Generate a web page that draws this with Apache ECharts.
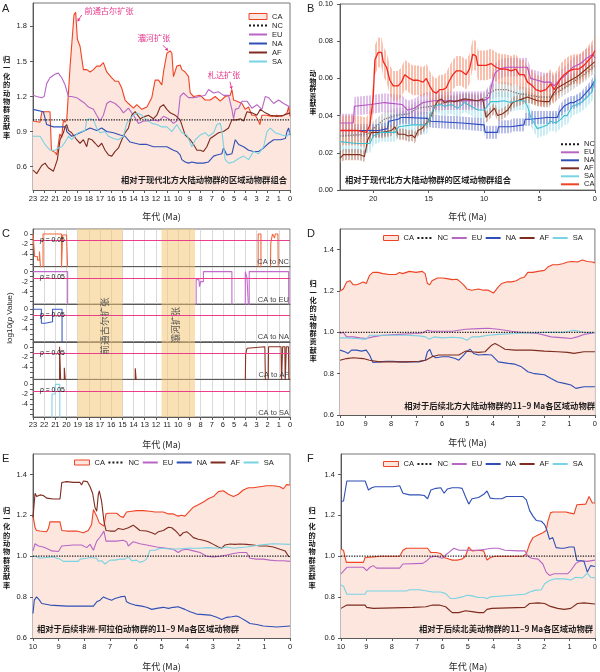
<!DOCTYPE html>
<html>
<head>
<meta charset="utf-8">
<script src="https://cdn.jsdelivr.net/npm/echarts@6.0.0/dist/echarts.min.js"></script>
<style>html,body{margin:0;padding:0;background:#fff;}#chart{width:600px;height:672px;}</style>
</head>
<body>
<div id="chart"></div>
<script>
// ---------------- tick labels / categories ----------------
const A_YTICKS = [0.6, 0.9, 1.2, 1.5, 1.8];
const B_YTICKS = [0, 0.02, 0.04, 0.06, 0.08, 0.10];
const B_XTICKS = [0, 5, 10, 15, 20];
const C_YTICKS = [0, -2, -4];
const C_YMINOR = [0, -1, -2, -3, -4, -5, -6];
const DEF_YTICKS = [0.6, 0.8, 1.0, 1.2, 1.4];
const LEGEND_A = ['CA', 'NC', 'EU', 'NA', 'AF', 'SA'];
const LEGEND_B = ['NC', 'EU', 'NA', 'AF', 'SA', 'CA'];
const C_PAIRS = ['CA to NC', 'CA to EU', 'CA to NA', 'CA to AF', 'CA to SA'];
const C_BANDS = [[19, 15], [11.5, 8.5]];
const C_BAND_LABELS = ['前通古尔扩张', '灞河扩张'];
const A_NOTE_TEXT = ['前通古尔扩张', '灞河扩张', '札达扩张'];
const A_NOTE_TIP = [[19.03, 1.84], [10.89, 1.59], [5.21, 1.26]];
const P_THRESHOLD = 0.05;
const NC_LEVEL = 1.0;
const C_OFF = -7; // p below plotted range

// ---------------- Panel A (age Ma, normalized contribution) ----------------
const A_CA = [[23,0.99],[22.37,0.98],[22.2,1.07],[21.48,1.07],[21.35,0.74],[21.0,0.72],[20.88,0.70],[20.75,0.78],[20.6,0.88],[20.43,0.85],[20.28,1.0],[20.13,0.98],[19.98,1.0],[19.68,1.46],[19.33,1.9],[19.18,1.92],[19.03,1.69],[18.79,1.63],[18.49,1.43],[18.19,1.43],[17.89,1.41],[17.59,1.43],[17.3,1.46],[17.0,1.46],[16.7,1.49],[16.4,1.41],[15.95,1.36],[15.65,1.33],[15.35,1.33],[15.05,1.27],[14.76,1.17],[14.46,1.14],[14.01,1.10],[13.71,1.13],[13.26,1.09],[12.81,1.11],[12.37,1.19],[12.07,1.34],[11.77,1.34],[11.47,1.30],[11.32,1.41],[11.02,1.57],[10.72,1.59],[10.57,1.57],[10.43,1.37],[10.13,1.46],[9.83,1.47],[9.68,1.43],[9.38,1.41],[9.08,1.37],[8.93,1.23],[8.63,1.20],[8.04,1.21],[7.59,1.17],[7.14,1.17],[6.69,1.20],[6.24,1.16],[5.8,1.20],[5.35,1.21],[5.2,1.26],[5.05,1.17],[4.75,1.16],[4.3,1.14],[4.0,1.09],[3.71,1.11],[3.41,1.04],[3.11,1.04],[2.81,0.99],[2.7,0.96],[2.51,1.04],[2.06,1.04],[1.61,1.03],[1.17,1.04],[0.72,1.03],[0.27,1.06],[0.12,1.11],[0,1.03]];
const A_EU = [[23,1.21],[22.67,1.2],[22.22,1.19],[22.0,1.2],[21.78,1.31],[21.48,1.36],[21.03,1.39],[20.73,1.40],[20.43,1.36],[20.13,1.3],[19.98,1.29],[19.83,1.2],[19.54,1.2],[19.09,1.19],[18.79,1.17],[18.34,1.14],[18.04,1.11],[17.59,1.09],[17.3,1.04],[17.0,0.99],[16.7,1.04],[16.4,1.14],[16.1,1.16],[15.65,1.14],[15.2,1.1],[14.91,1.06],[14.46,1.1],[14.01,1.04],[13.56,0.97],[13.11,0.99],[12.67,0.99],[12.22,1.0],[11.77,0.99],[11.32,1.03],[10.87,1.01],[10.43,0.97],[10.13,0.99],[9.98,1.06],[9.83,1.2],[9.53,1.23],[9.08,1.19],[8.63,1.19],[8.04,1.2],[7.59,1.21],[7.29,1.26],[6.84,1.23],[6.39,1.24],[5.95,1.21],[5.5,1.21],[5.2,1.09],[5.05,1.01],[4.9,1.09],[4.6,1.1],[4.3,1.16],[3.85,1.16],[3.41,1.1],[2.96,1.13],[2.51,1.09],[2.21,1.2],[1.91,1.19],[1.46,1.14],[1.02,1.17],[0.57,1.14],[0,1.11]];
const A_NA = [[23,1.09],[22.07,1.07],[21.92,1.07],[21.78,0.96],[21.18,0.94],[20.05,0.94],[19.98,0.9],[19.54,0.86],[19.24,0.87],[18.79,0.89],[18.34,0.91],[17.89,0.93],[17.3,0.91],[16.85,0.93],[16.4,0.9],[15.8,0.89],[15.2,0.87],[14.76,0.86],[14.31,0.81],[13.86,0.80],[13.41,0.79],[12.81,0.79],[12.22,0.77],[11.62,0.77],[11.02,0.77],[10.43,0.74],[10.13,0.73],[9.83,0.70],[9.68,0.66],[9.38,0.64],[9.08,0.63],[8.78,0.64],[8.33,0.63],[7.74,0.63],[7.29,0.64],[6.84,0.69],[6.54,0.70],[6.1,0.71],[5.95,0.76],[5.65,0.70],[5.2,0.71],[4.9,0.83],[4.6,0.79],[4.15,0.77],[3.71,0.74],[3.26,0.73],[2.81,0.73],[2.36,0.76],[1.91,0.8],[1.46,0.83],[0.87,0.83],[0.42,0.84],[0.27,0.9],[0.12,0.93],[0,0.87]];
const A_AF = [[23,0.57],[22.67,0.54],[22.22,0.61],[21.92,0.63],[21.63,0.59],[21.18,0.56],[21.03,0.6],[20.82,0.66],[20.58,0.83],[20.43,0.86],[20.28,0.89],[20.13,0.94],[19.98,0.96],[19.83,0.91],[19.54,0.89],[19.09,0.83],[18.79,0.8],[18.49,0.83],[18.19,0.77],[18.04,0.84],[17.74,0.83],[17.44,0.8],[17.15,0.77],[16.85,0.8],[16.55,0.74],[16.25,0.7],[15.95,0.69],[15.65,0.73],[15.35,0.76],[15.05,0.83],[14.76,0.89],[14.46,0.93],[14.16,1.04],[13.86,1.07],[13.41,1.01],[12.96,1.03],[12.67,1.04],[12.22,1.01],[11.92,1.04],[11.62,1.11],[11.32,1.13],[11.02,1.09],[10.72,1.06],[10.28,1.04],[9.83,1.0],[9.38,0.87],[8.93,0.83],[8.63,0.79],[8.33,0.74],[8.04,0.74],[7.74,0.73],[7.44,0.77],[7.14,0.84],[6.84,0.86],[6.39,0.89],[5.95,0.9],[5.5,0.93],[5.2,1.0],[4.75,1.0],[4.45,1.01],[4.15,0.99],[3.85,1.07],[3.41,1.06],[2.96,1.04],[2.66,1.09],[2.21,1.06],[1.76,1.04],[1.17,1.03],[0.57,1.04],[0,1.06]];
const A_SA = [[23,0.86],[22.37,0.86],[21.92,0.79],[21.48,0.74],[21.03,0.74],[20.73,0.76],[20.43,0.77],[20.13,0.81],[19.83,0.86],[19.54,0.83],[19.24,0.86],[18.94,0.89],[18.64,0.9],[18.34,0.91],[18.19,1.0],[17.89,1.01],[17.59,1.0],[17.3,0.93],[17.0,0.89],[16.55,0.9],[16.25,0.86],[15.8,0.84],[15.35,0.83],[14.91,0.86],[14.61,0.97],[14.31,1.01],[14.01,1.04],[13.71,1.06],[13.26,1.04],[12.81,1.0],[12.37,0.97],[11.92,0.96],[11.47,0.94],[11.02,0.94],[10.57,0.9],[10.13,0.96],[9.68,0.89],[9.23,0.87],[8.78,0.77],[8.48,0.83],[8.04,0.87],[7.59,0.89],[7.29,0.86],[6.84,0.89],[6.54,0.96],[6.24,0.97],[6.1,0.91],[5.8,0.66],[5.5,0.63],[5.05,0.64],[4.6,0.67],[4.15,0.69],[3.71,0.66],[3.26,0.73],[2.81,0.71],[2.36,0.77],[2.06,0.9],[1.76,0.93],[1.32,0.89],[0.72,0.87],[0.27,0.86],[0,0.89]];

// ---------------- Panel B (raw contribution with error bars) ----------------
const B_NC = [[23,0.029],[20.5,0.03],[20.0,0.033],[19.0,0.038],[18.0,0.04],[16.8,0.041],[16.0,0.044],[14.76,0.045],[13.5,0.047],[11.8,0.048],[10.0,0.048],[9.6,0.052],[8.9,0.054],[8.0,0.054],[7.0,0.052],[6.0,0.051],[5.0,0.05],[4.0,0.05],[3.0,0.054],[2.0,0.058],[1.0,0.062],[0,0.067]];
const B_EU = [[23,0.036],[21.8,0.036],[21.7,0.045],[20.2,0.046],[19.0,0.047],[17.4,0.046],[16.9,0.043],[16.3,0.044],[15.5,0.047],[14.5,0.048],[13,0.048],[11,0.048],[10,0.048],[9.5,0.05],[9.3,0.057],[9.0,0.063],[8.6,0.065],[8.0,0.066],[7.0,0.066],[6.1,0.066],[5.8,0.06],[5.2,0.059],[4.6,0.058],[4.0,0.058],[3.7,0.056],[3.2,0.059],[2.6,0.062],[2.0,0.066],[1.3,0.068],[0.7,0.071],[0.2,0.073],[0,0.071]];
const B_NA = [[23,0.032],[20.0,0.032],[19.5,0.032],[18.7,0.033],[18.6,0.037],[17.75,0.038],[17.5,0.039],[16.9,0.039],[15.1,0.0385],[14.8,0.037],[12,0.036],[10.0,0.035],[9.9,0.031],[8.8,0.031],[8.7,0.034],[7.6,0.034],[7.5,0.035],[6.4,0.035],[6.3,0.038],[5.8,0.038],[5.7,0.039],[4.3,0.039],[3.4,0.039],[3.2,0.042],[2.8,0.045],[2.2,0.047],[1.9,0.047],[1.3,0.049],[0.84,0.052],[0.39,0.055],[0,0.059]];
const B_AF = [[23,0.017],[22.7,0.019],[21.2,0.019],[20.8,0.018],[20.5,0.027],[20.15,0.031],[19.2,0.031],[18.35,0.032],[18.05,0.034],[17.75,0.03],[17.2,0.03],[16.86,0.029],[16.5,0.0295],[16.26,0.028],[15.96,0.032],[15.6,0.033],[15.36,0.035],[15.0,0.037],[14.76,0.040],[14.46,0.045],[14.16,0.048],[13.86,0.049],[13.56,0.047],[13.1,0.048],[12.66,0.0475],[11.77,0.049],[10.57,0.048],[10.12,0.049],[9.82,0.039],[9.52,0.041],[9.07,0.044],[8.77,0.04],[8.32,0.041],[7.87,0.043],[7.43,0.047],[6.98,0.048],[6.53,0.049],[6.08,0.05],[5.18,0.048],[4.5,0.0475],[4.13,0.0475],[3.83,0.051],[3.38,0.055],[2.78,0.057],[2.19,0.059],[1.59,0.061],[0.99,0.064],[0.39,0.067],[0,0.069]];
const B_SA = [[23,0.026],[21.5,0.025],[20.3,0.025],[20.0,0.029],[19.3,0.031],[18.0,0.031],[17.7,0.034],[16.5,0.035],[15.2,0.035],[14.9,0.038],[14.76,0.041],[14.46,0.045],[14.0,0.046],[13.56,0.045],[12.96,0.046],[12.36,0.044],[11.77,0.047],[11.17,0.045],[10.57,0.043],[10.0,0.043],[9.4,0.0475],[8.77,0.0475],[8.2,0.048],[7.6,0.047],[6.98,0.048],[6.38,0.048],[6.08,0.045],[5.78,0.039],[5.48,0.036],[5.2,0.033],[4.7,0.034],[4.3,0.035],[4.0,0.037],[3.53,0.036],[3.08,0.038],[2.78,0.040],[2.5,0.040],[2.04,0.045],[1.59,0.046],[1.14,0.0475],[0.69,0.05],[0.24,0.053],[0,0.06]];
const B_CA = [[23,0.032],[21.5,0.032],[20.6,0.031],[20.3,0.035],[20.0,0.05],[19.85,0.07],[19.55,0.074],[19.25,0.074],[19.1,0.069],[18.8,0.066],[18.5,0.059],[18.2,0.056],[17.75,0.056],[17.46,0.058],[17.16,0.062],[16.71,0.06],[16.41,0.059],[15.96,0.059],[15.51,0.058],[15.21,0.06],[14.91,0.056],[14.61,0.053],[14.31,0.052],[14.01,0.054],[13.71,0.054],[13.41,0.055],[13.11,0.059],[12.81,0.062],[12.51,0.064],[12.07,0.064],[11.62,0.062],[11.32,0.065],[11.02,0.073],[10.72,0.072],[10.57,0.067],[10.27,0.067],[9.82,0.067],[9.37,0.068],[8.92,0.066],[8.47,0.065],[8.02,0.065],[7.57,0.064],[7.13,0.065],[6.83,0.062],[6.38,0.062],[6.08,0.058],[5.63,0.056],[5.33,0.054],[4.88,0.053],[4.43,0.054],[3.98,0.057],[3.68,0.054],[3.38,0.057],[3.08,0.06],[2.78,0.062],[2.34,0.064],[1.89,0.065],[1.44,0.065],[0.99,0.067],[0.54,0.07],[0.24,0.072],[0,0.075]];
const B_NC_ERR = 0.004, B_EU_ERR = 0.005, B_NA_ERR = 0.0035, B_AF_ERR = 0.003, B_SA_ERR = 0.005, B_CA_ERR = 0.008;

// ---------------- Panel C (log10 p, step segments) ----------------
const C_CA_NC = [
  [[23,0],[22.85,0],[22.85,-4.5],[22.6,-4.5],[22.6,-5.2],[22.42,-5.2],[22.42,-3.5],[22.32,-3.5],[22.32,C_OFF],[22.1,C_OFF],[22.1,0],[20.45,0],[20.45,C_OFF],[20.35,C_OFF],[20.35,-0.2],[20.0,-0.2],[20.0,0],[19.9,0],[19.9,C_OFF]],
  [[2.85,C_OFF],[2.85,0],[2.6,0],[2.6,C_OFF]],
  [[1.75,C_OFF],[1.72,-1.8],[1.6,-1.5],[1.57,0],[1.42,0],[1.38,-0.8],[1.32,0],[1.08,0],[1.05,C_OFF]]
];
const C_CA_EU = [
  [[23,0],[19.9,0],[19.9,C_OFF]],
  [[8.4,C_OFF],[8.4,-1.6],[8.15,-1.6],[8.1,-3.0],[8.0,-2.0],[7.75,-2.0],[7.75,0],[5.2,0],[5.2,C_OFF]],
  [[4.0,C_OFF],[4.0,0],[3.9,0],[3.85,-1.2],[3.75,-1.2],[3.72,C_OFF]],
  [[3.65,C_OFF],[3.65,0],[0.12,0],[0.12,C_OFF]]
];
const C_CA_NA = [
  [[23,0],[22.25,0],[22.25,-2.8],[21.9,-2.8],[21.9,-2.5],[21.25,-2.5],[21.25,0],[20.4,0],[20.4,C_OFF]]
];
const C_CA_AF = [
  [[20.62,C_OFF],[20.62,0],[20.52,0],[20.52,C_OFF]],
  [[20.2,C_OFF],[20.2,-4.2],[20.1,-4.2],[20.1,C_OFF]],
  [[13.85,C_OFF],[13.85,-4.3],[13.75,-4.3],[13.75,C_OFF]],
  [[4.0,C_OFF],[3.97,-1.5],[3.88,-1.5],[3.85,-0.3],[3.7,0],[2.25,0],[2.2,C_OFF],[1.95,C_OFF],[1.92,0],[0.8,0],[0.76,C_OFF],[0.7,C_OFF],[0.66,0],[0.46,0],[0.43,C_OFF],[0.36,C_OFF],[0.33,0],[0.14,0],[0.1,C_OFF]]
];
const C_CA_SA = [
  [[21.3,C_OFF],[21.3,-1.9],[21.0,-1.9],[21.0,0],[20.6,0],[20.6,C_OFF]]
];

// ---------------- Panel D ----------------
const D_CA = [[10,1.2],[9.87,1.21],[9.74,1.244],[9.61,1.25],[9.48,1.23],[9.35,1.23],[9.22,1.236],[9.09,1.244],[8.97,1.236],[8.84,1.276],[8.71,1.29],[8.51,1.29],[8.32,1.284],[8.06,1.28],[7.8,1.28],[7.67,1.29],[7.54,1.284],[7.28,1.295],[7.02,1.29],[6.77,1.295],[6.66,1.284],[6.57,1.236],[6.48,1.23],[6.39,1.25],[6.18,1.263],[5.99,1.263],[5.8,1.26],[5.6,1.255],[5.41,1.257],[5.28,1.244],[5.15,1.23],[5.02,1.21],[4.83,1.204],[4.57,1.21],[4.37,1.204],[4.18,1.204],[3.98,1.19],[3.92,1.196],[3.79,1.22],[3.66,1.236],[3.47,1.244],[3.27,1.244],[3.08,1.25],[2.95,1.26],[2.76,1.268],[2.63,1.29],[2.43,1.29],[2.24,1.295],[1.98,1.3],[1.85,1.316],[1.66,1.327],[1.46,1.327],[1.27,1.332],[1.07,1.34],[0.88,1.343],[0.69,1.34],[0.49,1.35],[0.3,1.343],[0.1,1.34],[0,1.336]];
const D_EU = [[10,0.994],[9.87,1.0],[9.74,0.978],[9.48,0.978],[9.22,0.973],[8.97,0.97],[8.71,0.978],[8.32,0.986],[7.67,0.99],[7.02,0.994],[6.77,0.997],[6.57,1.01],[6.39,1.005],[5.99,1.005],[5.6,1.005],[5.08,1.015],[4.57,1.018],[4.18,1.02],[3.79,1.015],[3.27,1.005],[2.76,0.998],[2.24,0.994],[1.72,0.978],[1.2,0.973],[0.94,0.97],[0.69,0.978],[0.43,0.99],[0,0.998]];
const D_NA = [[10,0.914],[9.81,0.906],[9.68,0.898],[9.55,0.914],[9.35,0.914],[9.16,0.909],[8.97,0.914],[8.84,0.89],[8.71,0.854],[8.45,0.857],[8.19,0.86],[7.93,0.86],[7.67,0.857],[7.41,0.857],[7.15,0.857],[6.9,0.857],[6.66,0.865],[6.57,0.906],[6.48,0.918],[6.39,0.89],[6.25,0.877],[5.99,0.882],[5.74,0.882],[5.48,0.873],[5.34,0.865],[5.15,0.89],[5.02,0.909],[4.89,0.918],[4.76,0.898],[4.57,0.89],[4.31,0.893],[4.05,0.89],[3.79,0.857],[3.4,0.85],[3.14,0.846],[2.88,0.833],[2.63,0.809],[2.37,0.8],[1.98,0.795],[1.72,0.777],[1.46,0.76],[1.2,0.753],[0.94,0.745],[0.75,0.729],[0.43,0.737],[0,0.737]];
const D_AF = [[10,0.865],[9.74,0.873],[9.48,0.877],[9.09,0.873],[8.84,0.865],[8.45,0.857],[7.93,0.857],[7.41,0.857],[6.9,0.86],[6.64,0.865],[6.39,0.882],[6.13,0.89],[5.86,0.89],[5.6,0.89],[5.34,0.89],[5.08,0.909],[4.83,0.906],[4.57,0.903],[4.31,0.906],[4.05,0.938],[3.92,0.946],[3.79,0.938],[3.53,0.918],[3.14,0.914],[2.5,0.914],[1.98,0.909],[1.46,0.906],[1.07,0.903],[0.82,0.898],[0.43,0.906],[0,0.906]];
const D_SA = [[10,0.973],[9.74,0.973],[9.35,0.97],[9.09,0.967],[8.97,0.967],[8.84,0.986],[8.45,0.986],[7.93,0.986],[7.41,0.986],[6.9,0.983],[6.64,0.978],[6.51,0.967],[6.31,0.978],[5.99,0.973],[5.6,0.976],[5.21,0.973],[5.02,0.962],[4.83,0.978],[4.57,0.978],[4.18,0.986],[3.79,0.99],[3.14,0.994],[2.5,0.998],[1.85,1.0],[1.2,1.0],[0.82,1.01],[0.43,1.0],[0,0.998]];

// ---------------- Panel E ----------------
const E_CA = [[10,1.2],[9.92,1.14],[9.86,1.126],[9.73,1.123],[9.47,1.12],[9.4,1.136],[9.34,1.168],[8.95,1.168],[8.88,1.126],[8.69,1.123],[8.3,1.123],[8.04,1.115],[7.85,1.126],[7.72,1.155],[7.65,1.228],[7.52,1.196],[7.42,1.163],[7.33,1.155],[7.24,1.147],[7.16,1.207],[7.07,1.21],[6.87,1.21],[6.74,1.21],[6.61,1.196],[6.49,1.19],[6.36,1.216],[6.16,1.22],[5.97,1.223],[5.71,1.223],[5.45,1.22],[5.25,1.216],[4.93,1.216],[4.73,1.207],[4.54,1.207],[4.35,1.196],[4.22,1.2],[4.09,1.196],[4.02,1.2],[3.89,1.223],[3.76,1.24],[3.57,1.252],[3.37,1.265],[3.18,1.281],[2.98,1.292],[2.79,1.316],[2.59,1.32],[2.4,1.303],[2.2,1.292],[2.01,1.303],[1.82,1.324],[1.62,1.335],[1.43,1.335],[1.17,1.34],[0.91,1.345],[0.65,1.345],[0.39,1.34],[0.26,1.33],[0.13,1.35],[0,1.348]];
const E_EU = [[10,1.026],[9.92,1.061],[9.79,1.05],[9.6,1.045],[9.4,1.034],[9.27,1.026],[9.01,1.023],[8.88,1.05],[8.43,1.055],[8.11,1.055],[7.91,1.042],[7.78,1.058],[7.65,1.029],[7.52,1.074],[7.39,1.094],[7.33,1.087],[7.24,1.123],[7.16,1.074],[7.0,1.074],[6.74,1.074],[6.49,1.078],[6.36,1.071],[6.29,1.05],[6.1,1.071],[5.84,1.061],[5.58,1.055],[5.19,1.045],[4.8,1.039],[4.54,1.034],[4.35,1.018],[4.22,1.029],[4.02,1.034],[3.76,1.026],[3.5,1.018],[3.24,1.0],[2.98,0.997],[2.72,1.0],[2.46,1.006],[2.2,1.013],[1.95,1.018],[1.69,1.018],[1.56,0.99],[1.3,0.986],[1.04,0.986],[0.78,0.981],[0.52,0.978],[0.26,0.978],[0,0.975]];
const E_NA = [[10,0.72],[9.95,0.785],[9.86,0.801],[9.75,0.785],[9.66,0.769],[9.34,0.761],[8.69,0.756],[8.17,0.756],[7.65,0.756],[7.52,0.777],[7.39,0.785],[7.26,0.801],[7.13,0.793],[6.94,0.785],[6.81,0.793],[6.61,0.801],[6.42,0.804],[6.36,0.777],[6.23,0.769],[6.03,0.761],[5.77,0.756],[5.58,0.75],[5.38,0.74],[5.19,0.745],[4.93,0.75],[4.73,0.745],[4.54,0.75],[4.35,0.753],[4.09,0.74],[3.89,0.728],[3.63,0.717],[3.11,0.712],[2.85,0.701],[2.66,0.691],[2.46,0.701],[2.27,0.704],[2.08,0.708],[1.95,0.701],[1.69,0.682],[1.56,0.671],[1.3,0.666],[1.04,0.659],[0.52,0.654],[0,0.659]];
const E_AF = [[10,1.19],[9.92,1.308],[9.86,1.292],[9.73,1.3],[9.6,1.297],[9.47,1.284],[9.21,1.28],[8.95,1.28],[8.88,1.361],[8.69,1.365],[8.43,1.361],[8.17,1.361],[8.11,1.348],[8.04,1.368],[7.98,1.372],[7.89,1.365],[7.78,1.34],[7.68,1.308],[7.59,1.24],[7.52,1.22],[7.46,1.3],[7.42,1.32],[7.33,1.268],[7.24,1.171],[7.16,1.126],[7.0,1.123],[6.81,1.123],[6.68,1.136],[6.49,1.131],[6.29,1.139],[6.1,1.152],[5.97,1.139],[5.84,1.126],[5.58,1.123],[5.38,1.115],[5.25,1.107],[5.12,1.12],[4.93,1.126],[4.73,1.142],[4.6,1.139],[4.47,1.126],[4.35,1.11],[4.28,1.099],[4.15,1.115],[4.02,1.12],[3.89,1.107],[3.76,1.091],[3.57,1.083],[3.37,1.078],[3.18,1.071],[2.98,1.058],[2.79,1.045],[2.66,1.039],[2.53,1.055],[2.33,1.06],[2.14,1.058],[1.95,1.06],[1.69,1.058],[1.43,1.055],[1.17,1.05],[0.91,1.05],[0.65,1.045],[0.39,1.034],[0.19,1.026],[0.06,1.0],[0,0.998]];
const E_SA = [[10,1.0],[9.86,0.997],[9.73,0.99],[9.47,0.994],[9.21,0.997],[9.08,0.99],[8.95,0.986],[8.82,0.975],[8.5,0.975],[8.24,0.975],[8.17,0.986],[7.91,0.99],[7.78,0.994],[7.52,0.99],[7.46,0.975],[7.33,0.978],[7.2,0.962],[7.13,0.965],[7.0,0.981],[6.81,0.981],[6.61,0.986],[6.42,0.986],[6.29,0.997],[6.16,0.978],[5.97,0.981],[5.84,0.97],[5.71,0.975],[5.58,0.986],[5.45,1.029],[5.25,1.029],[5.06,1.039],[4.54,1.034],[4.02,1.039],[3.5,1.039],[3.24,1.042],[2.72,1.039],[2.46,1.045],[2.2,1.039],[1.69,1.045],[1.43,1.05],[1.17,1.055],[0.91,1.058],[0.65,1.061],[0,1.058]];

// ---------------- Panel F ----------------
const F_CA = [[10,1.034],[9.9,1.029],[9.79,0.97],[9.12,0.97],[9.05,0.994],[8.73,0.997],[8.47,1.0],[7.69,1.0],[7.56,1.029],[7.43,1.039],[6.59,1.039],[6.46,1.018],[6.26,1.018],[6.07,1.013],[5.94,0.994],[5.75,0.986],[5.62,0.981],[5.42,0.981],[5.23,0.986],[5.1,1.0],[4.97,1.045],[4.84,1.026],[4.58,1.029],[4.38,1.026],[4.25,0.981],[4.12,0.994],[3.93,1.0],[2.83,1.0],[2.7,1.013],[2.57,1.061],[2.44,1.091],[2.24,1.104],[2.05,1.115],[1.92,1.126],[1.85,1.171],[1.75,1.212],[1.66,1.216],[1.14,1.216],[1.01,1.212],[0.82,1.207],[0.71,1.252],[0.36,1.255],[0.23,1.292],[0.1,1.26],[0,1.26]];
const F_EU = [[10,0.914],[9.77,0.946],[9.12,0.946],[8.99,0.93],[8.86,0.946],[8.73,0.954],[8.6,0.942],[7.69,0.942],[7.56,0.962],[6.78,0.965],[6.65,0.975],[6.46,0.997],[6.26,1.0],[6.0,0.99],[5.88,1.006],[5.68,1.026],[5.55,1.039],[5.36,1.029],[4.58,1.029],[4.06,1.039],[3.8,1.039],[3.54,1.029],[3.02,1.026],[2.76,1.026],[2.63,1.0],[2.5,0.99],[2.24,0.986],[2.05,0.962],[1.92,0.922],[1.79,0.906],[1.6,0.914],[1.08,0.914],[0.95,0.93],[0.75,0.965],[0.56,0.978],[0.3,0.975],[0,0.981]];
const F_NA = [[10,1.268],[9.9,1.27],[9.77,1.368],[9.51,1.368],[9.25,1.368],[9.05,1.368],[8.92,1.324],[8.79,1.335],[8.66,1.34],[8.34,1.34],[7.95,1.34],[7.69,1.345],[7.56,1.308],[7.3,1.3],[6.91,1.3],[6.72,1.297],[6.59,1.281],[6.46,1.324],[6.26,1.332],[6.07,1.335],[5.94,1.308],[5.81,1.329],[5.62,1.335],[5.36,1.335],[5.23,1.332],[5.1,1.292],[4.97,1.255],[4.84,1.281],[4.58,1.287],[4.38,1.303],[4.25,1.319],[4.12,1.284],[3.93,1.281],[3.67,1.281],[3.48,1.292],[3.28,1.292],[3.02,1.292],[2.83,1.292],[2.7,1.276],[2.57,1.223],[2.44,1.196],[2.31,1.175],[2.11,1.171],[1.98,1.155],[1.88,1.123],[1.79,1.083],[1.66,1.091],[1.53,1.042],[1.34,1.039],[1.21,1.039],[1.01,1.045],[0.82,1.045],[0.71,0.978],[0.56,0.978],[0.43,0.975],[0.3,0.922],[0.17,0.954],[0,0.95]];
const F_AF = [[10,0.745],[9.77,0.761],[9.05,0.761],[8.99,0.75],[8.73,0.745],[7.17,0.75],[6.65,0.753],[6.39,0.761],[6.13,0.761],[5.88,0.753],[5.62,0.724],[5.36,0.724],[5.1,0.733],[4.84,0.729],[4.58,0.724],[4.38,0.724],[4.25,0.74],[4.06,0.745],[2.76,0.75],[2.57,0.769],[2.24,0.772],[1.98,0.769],[1.79,0.756],[1.47,0.745],[1.21,0.74],[0.95,0.745],[0.69,0.769],[0.43,0.772],[0,0.766]];
const F_SA = [[10,0.859],[9.9,0.853],[9.77,0.814],[9.05,0.814],[8.99,0.83],[7.43,0.83],[7.3,0.836],[6.91,0.836],[6.39,0.825],[6.07,0.825],[5.88,0.817],[5.68,0.793],[5.49,0.793],[5.23,0.801],[5.03,0.809],[4.84,0.806],[4.58,0.798],[4.38,0.798],[4.25,0.793],[4.12,0.801],[3.8,0.804],[3.28,0.809],[2.76,0.814],[2.57,0.825],[2.37,0.833],[2.11,0.836],[1.98,0.865],[1.79,0.881],[1.6,0.889],[1.21,0.889],[0.95,0.884],[0.75,0.897],[0.49,0.894],[0.3,0.917],[0.17,0.897],[0,0.894]];

// ---------------- styling ----------------
const FONT_NUM = '"Liberation Sans", Arial, sans-serif';
const FONT_CJK = '"Noto Sans CJK SC", sans-serif';
const COL = {CA:'#ee4424', NC:'#1a1a1a', EU:'#b866c4', NA:'#2f4fb5', AF:'#7d2c1f', SA:'#78d3e3'};
const BCOL = {CA:'#f2261d', NC:'#7a7a7a', EU:'#b552c2', NA:'#2d4cc0', AF:'#86301f', SA:'#3dbfd2'};
const BERRCOL = {CA:'#f48a68', NC:'#b5b5b5', EU:'#c68ad6', NA:'#8088d6', AF:'#b27a64', SA:'#9fdde9'};
const CCOL = ['#f2683a', '#c46acc', '#3e5cc6', '#8a3322', '#80d3e3'];
const CA_FILL = '#fde6de';
const AX = '#5a5a5a';

const chart = echarts.init(document.getElementById('chart'), null, {renderer: 'canvas'});

const C_TOP = 229, C_H = 37.6;
const gridDefs = [
  {left: 33, top: 3, width: 257, height: 187},
  {left: 340, top: 4, width: 258, height: 186}
];
for (let i = 0; i < 5; i++) gridDefs.push({left: 33, top: C_TOP + i * C_H, width: 257, height: C_H});
gridDefs.push({left: 340, top: 229, width: 258, height: 186});
gridDefs.push({left: 33, top: 454, width: 257, height: 186});
gridDefs.push({left: 341, top: 454, width: 257, height: 186});
const GI = {A: 0, B: 1, C0: 2, D: 7, E: 8, F: 9};

const grid = gridDefs.map(g => Object.assign({show: true, borderColor: '#777', borderWidth: 1, backgroundColor: 'transparent'}, g));

const labelBase = {fontSize: 7.5, color: '#222', fontFamily: FONT_NUM};
function xAx(gi, max, opts) {
  opts = opts || {};
  const showLabel = opts.showLabel !== false;
  const ax = {
    gridIndex: gi, type: 'value', min: 0, max: max, inverse: true,
    axisLine: {show: true, onZero: false, lineStyle: {color: AX}},
    axisTick: {show: showLabel, length: 3, lineStyle: {color: AX}},
    axisLabel: Object.assign({show: showLabel, margin: opts.margin || 5}, labelBase),
    splitLine: {show: !!opts.split, lineStyle: {color: '#cfcfcf', width: 0.8}},
    name: opts.name || '', nameLocation: 'middle', nameGap: opts.nameGap || 23,
    nameTextStyle: {fontSize: 9, color: '#222', fontFamily: FONT_CJK}
  };
  if (opts.ticks) {
    ax.axisLabel.customValues = opts.ticks;
    ax.axisTick.customValues = opts.ticks;
  } else {
    ax.interval = 1;
  }
  return ax;
}
function yAx(gi, min, max, ticks, fmt, opts) {
  opts = opts || {};
  return {
    gridIndex: gi, type: 'value', min: min, max: max,
    axisLine: {show: true, onZero: false, lineStyle: {color: AX}},
    axisTick: {show: true, length: 3, customValues: opts.minor || ticks, lineStyle: {color: AX}},
    axisLabel: Object.assign({customValues: ticks, formatter: fmt, margin: opts.margin || 6}, labelBase, opts.label || {}),
    splitLine: {show: false}
  };
}
const f1 = v => v.toFixed(1);
const f2 = v => v.toFixed(2);

const xAxis = [
  xAx(GI.A, 23, {name: '年代 (Ma)', nameGap: 22}),
  xAx(GI.B, 23, {name: '年代 (Ma)', nameGap: 22, ticks: B_XTICKS})
];
for (let i = 0; i < 5; i++) xAxis.push(xAx(GI.C0 + i, 23, {showLabel: i === 4, split: true, name: i === 4 ? '年代 (Ma)' : '', nameGap: 23, margin: 4}));
xAxis.push(xAx(GI.D, 10, {name: '年代 (Ma)', nameGap: 23}));
xAxis.push(xAx(GI.E, 10, {name: '年代 (Ma)', nameGap: 24}));
xAxis.push(xAx(GI.F, 10, {name: '年代 (Ma)', nameGap: 24}));

const yAxis = [
  yAx(GI.A, 0.4, 2.0, A_YTICKS, f1),
  yAx(GI.B, 0, 0.1, B_YTICKS, f2, {margin: 7})
];
for (let i = 0; i < 5; i++) yAxis.push(yAx(GI.C0 + i, -6.5, 1, C_YTICKS, v => String(v), {minor: C_YMINOR, margin: 5, label: {fontSize: 7}}));
yAxis.push(yAx(GI.D, 0.6, 1.5, DEF_YTICKS, f1));
yAxis.push(yAx(GI.E, 0.6, 1.5, DEF_YTICKS, f1));
yAxis.push(yAx(GI.F, 0.6, 1.5, DEF_YTICKS, f1));

function line(name, data, gi, color, o) {
  o = o || {};
  const s = {
    type: 'line', name: name, data: data, xAxisIndex: gi, yAxisIndex: gi,
    symbol: 'none', showSymbol: false, clip: true, silent: true, z: o.z || 3,
    lineStyle: {color: color, width: o.width || 1.1, type: o.type || 'solid'},
    itemStyle: {color: color}
  };
  if (o.area) s.areaStyle = {color: CA_FILL, opacity: 1, origin: 'start'};
  if (o.markLine) s.markLine = o.markLine;
  if (o.markArea) s.markArea = o.markArea;
  return s;
}
function stripe(color) {
  const c = document.createElement('canvas');
  c.width = 3; c.height = 2;
  const ctx = c.getContext('2d');
  ctx.globalAlpha = 0.55;
  ctx.fillStyle = color;
  ctx.fillRect(0, 0, 2, 2);
  return {image: c, repeat: 'repeat'};
}
function errBand(name, data, err, color, gi) {
  const fill = stripe(color);
  return {
    type: 'custom', name: name + ' error', xAxisIndex: gi, yAxisIndex: gi, clip: true, z: 1, silent: true,
    data: data, encode: {x: 0, y: 1},
    renderItem: function (params, api) {
      const i = params.dataIndex;
      if (i >= data.length - 1) return null;
      const a = data[i], b = data[i + 1];
      const pts = [api.coord([a[0], a[1] + err]), api.coord([b[0], b[1] + err]), api.coord([b[0], b[1] - err]), api.coord([a[0], a[1] - err])];
      return {type: 'polygon', shape: {points: pts}, style: {fill: fill, stroke: null}};
    }
  };
}
function ncLine(gi, t0) {
  return line('NC', [[t0, NC_LEVEL], [0, NC_LEVEL]], gi, COL.NC, {type: 'dotted', width: 1.3, z: 4});
}

const series = [];
// Panel A
series.push(line('CA', A_CA, GI.A, COL.CA, {area: true, z: 2}));
series.push(ncLine(GI.A, 23));
series.push(line('EU', A_EU, GI.A, COL.EU));
series.push(line('NA', A_NA, GI.A, COL.NA));
series.push(line('AF', A_AF, GI.A, COL.AF));
series.push(line('SA', A_SA, GI.A, COL.SA));
// Panel B
series.push(errBand('NC', B_NC, B_NC_ERR, BERRCOL.NC, GI.B));
series.push(errBand('SA', B_SA, B_SA_ERR, BERRCOL.SA, GI.B));
series.push(errBand('NA', B_NA, B_NA_ERR, BERRCOL.NA, GI.B));
series.push(errBand('AF', B_AF, B_AF_ERR, BERRCOL.AF, GI.B));
series.push(errBand('EU', B_EU, B_EU_ERR, BERRCOL.EU, GI.B));
series.push(errBand('CA', B_CA, B_CA_ERR, BERRCOL.CA, GI.B));
series.push(line('NC', B_NC, GI.B, BCOL.NC, {type: 'dotted', width: 1.3}));
series.push(line('EU', B_EU, GI.B, BCOL.EU));
series.push(line('NA', B_NA, GI.B, BCOL.NA));
series.push(line('AF', B_AF, GI.B, BCOL.AF));
series.push(line('SA', B_SA, GI.B, BCOL.SA));
series.push(line('CA', B_CA, GI.B, BCOL.CA, {width: 1.3}));
// Panel C
const P_LOG = Math.log10(P_THRESHOLD);
const C_SETS = [C_CA_NC, C_CA_EU, C_CA_NA, C_CA_AF, C_CA_SA];
C_SETS.forEach((segs, k) => {
  segs.forEach((seg, j) => {
    const o = {width: 1.1};
    if (j === 0) {
      o.markLine = {silent: true, symbol: 'none', label: {show: false}, lineStyle: {color: '#ea3e8c', width: 1, type: 'solid'}, data: [{yAxis: P_LOG}]};
      o.markArea = {silent: true, itemStyle: {color: 'rgba(245,200,120,0.55)'}, data: C_BANDS.map(b => [{xAxis: b[0]}, {xAxis: b[1]}])};
    }
    series.push(line(C_PAIRS[k], seg, GI.C0 + k, CCOL[k], o));
  });
});
// Panels D, E, F
[[GI.D, D_CA, D_EU, D_NA, D_AF, D_SA], [GI.E, E_CA, E_EU, E_NA, E_AF, E_SA], [GI.F, F_CA, F_EU, F_NA, F_AF, F_SA]].forEach(p => {
  const gi = p[0];
  series.push(line('CA', p[1], gi, COL.CA, {area: true, z: 2}));
  series.push(ncLine(gi, 10));
  series.push(line('EU', p[2], gi, COL.EU));
  series.push(line('NA', p[3], gi, COL.NA));
  series.push(line('AF', p[4], gi, COL.AF));
  series.push(line('SA', p[5], gi, COL.SA));
});

const caIcon = {name: 'CA', icon: 'rect', itemStyle: {color: CA_FILL, borderColor: COL.CA, borderWidth: 1, opacity: 1}};
const legText = {fontSize: 7.5, color: '#222', fontFamily: FONT_NUM, lineHeight: 8};
const legItem = {opacity: 0};
function hLegend(left, top) {
  return {orient: 'horizontal', left: left, top: top, itemWidth: 15, itemHeight: 5, itemGap: 2.5, selectedMode: false, padding: 0,
    itemStyle: legItem, textStyle: legText, data: [caIcon].concat(LEGEND_A.slice(1))};
}
const legend = [
  {orient: 'vertical', left: 248, top: 12.5, itemWidth: 18, itemHeight: 6, itemGap: 1, selectedMode: false, padding: 0,
    itemStyle: legItem, textStyle: legText, data: [caIcon].concat(LEGEND_A.slice(1))},
  {orient: 'vertical', left: 560, top: 140.3, itemWidth: 18, itemHeight: 6, itemGap: 0, selectedMode: false, padding: 0,
    itemStyle: legItem, textStyle: legText, data: LEGEND_B},
  hLegend(383, 234),
  hLegend(74, 458.5),
  hLegend(383, 460)
];

chart.setOption({animation: false, grid: grid, xAxis: xAxis, yAxis: yAxis, series: series, legend: legend});

// ---------------- text annotations ----------------
function T(x, y, text, o) {
  o = o || {};
  const style = {text: text, fill: o.color || '#222', fontSize: o.size || 8, fontFamily: o.family || FONT_CJK,
    fontWeight: o.weight || 'normal', align: o.align || 'left', verticalAlign: o.valign || 'middle'};
  if (o.rich) style.rich = o.rich;
  return {type: 'text', x: x, y: y, rotation: o.rotation || 0, silent: true, z: 100, style: style};
}
const g = [];
function stackText(cx, cy, s, pitch, size) {
  const chars = s.split('');
  const y0 = cy - (chars.length - 1) / 2 * pitch;
  chars.forEach((ch, i) => g.push(T(cx, y0 + i * pitch, ch, {align: 'center', size: size, color: '#111', weight: 'bold'})));
}
// panel letters
[['A', 2, 9], ['B', 307, 9], ['C', 2, 234], ['D', 307, 234], ['E', 2, 459], ['F', 307, 459]].forEach(l => g.push(T(l[1], l[2], l[0], {size: 11, family: FONT_NUM})));
// y-axis names
const YN = '归一化的动物群贡献率';
stackText(6.5, 97, YN, 8.4, 7.2);
stackText(313, 92.5, '动物群贡献率', 7.6, 6.8);
stackText(313, 321, YN, 8.3, 7.2);
stackText(6.5, 547.5, YN, 8.3, 7.2);
stackText(312, 547.5, YN, 8.3, 7.2);
g.push(T(10, 318, '{a|log10(}{b|p}{a| Value)}', {align: 'center', rotation: Math.PI / 2,
  rich: {a: {fontSize: 8, fontFamily: FONT_NUM, fill: '#222'}, b: {fontSize: 8, fontFamily: FONT_NUM, fontStyle: 'italic', fill: '#222'}}}));
// subtitles
const SUB = {size: 8.3, weight: 'bold', color: '#1f1f1f'};
g.push(T(287, 180, '相对于现代北方大陆动物群的区域动物群组合', Object.assign({align: 'right'}, SUB)));
g.push(T(345, 180, '相对于现代北方大陆动物群的区域动物群组合', SUB));
g.push(T(595, 406, '相对于后续北方大陆动物群的11–9 Ma各区域动物群', Object.assign({align: 'right'}, SUB)));
g.push(T(37, 628.5, '相对于后续非洲-阿拉伯动物群的11–9 Ma各区域动物群', SUB));
g.push(T(593, 628.5, '相对于后续北美动物群的11–9 Ma各区域动物群', Object.assign({align: 'right'}, SUB)));
// panel C labels
for (let i = 0; i < 5; i++) {
  const top = C_TOP + i * C_H;
  g.push(T(289, top + C_H - 4.5, C_PAIRS[i], {align: 'right', size: 7.5, family: FONT_NUM, color: '#444'}));
  g.push(T(40, top + 11, '{i|p}{n| = 0.05}', {rich: {i: {fontSize: 6.8, fontStyle: 'italic', fontFamily: FONT_NUM, fill: '#111'}, n: {fontSize: 6.8, fontFamily: FONT_NUM, fill: '#111'}}}));
}
g.push(T(104, 326, C_BAND_LABELS[0], {align: 'center', rotation: Math.PI / 2, size: 9.5, color: '#555'}));
g.push(T(176, 325, C_BAND_LABELS[1], {align: 'center', rotation: Math.PI / 2, size: 9, color: '#555'}));
// panel A expansion annotations with arrows
const NOTE_TEXT_OFF = [[31.7, -11.2], [-14.3, -12.7], [-7.7, -14.3]];
const NOTE_ARROW_OFF = [[4.4, -6.7], [-5.3, -5.7], [-1.7, -7.6]];
const MAG = '#e6358b';
A_NOTE_TIP.forEach((tipData, i) => {
  const tip = chart.convertToPixel({gridIndex: GI.A}, tipData);
  const st = [tip[0] + NOTE_ARROW_OFF[i][0], tip[1] + NOTE_ARROW_OFF[i][1]];
  g.push(T(tip[0] + NOTE_TEXT_OFF[i][0], tip[1] + NOTE_TEXT_OFF[i][1], A_NOTE_TEXT[i], {align: 'center', size: 8.2, color: MAG}));
  const dx = tip[0] - st[0], dy = tip[1] - st[1], L = Math.sqrt(dx * dx + dy * dy) || 1;
  const ux = dx / L, uy = dy / L, hl = 3.2, hw = 1.7;
  const base = [tip[0] - ux * hl, tip[1] - uy * hl];
  g.push({type: 'line', silent: true, z: 100, shape: {x1: st[0], y1: st[1], x2: base[0], y2: base[1]}, style: {stroke: MAG, lineWidth: 0.9}});
  g.push({type: 'polygon', silent: true, z: 100, shape: {points: [tip, [base[0] - uy * hw, base[1] + ux * hw], [base[0] + uy * hw, base[1] - ux * hw]]}, style: {fill: MAG}});
});
chart.setOption({graphic: g});
</script>
</body>
</html>
